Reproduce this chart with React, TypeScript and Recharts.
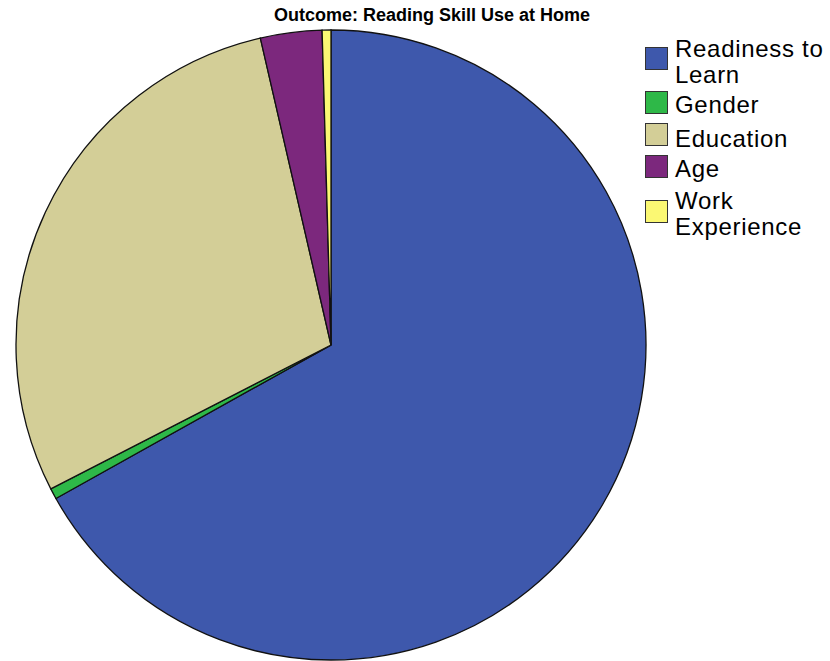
import { Cell, Legend, Pie, PieChart } from "recharts";

// Share of explained variance, outcome: reading skill use at home.
const predictors = ["Readiness to Learn", "Gender", "Education", "Age", "Work Experience"];
const legendLines = [["Readiness to", "Learn"], ["Gender"], ["Education"], ["Age"], ["Work", "Experience"]];
const shares = [66.9, 0.55, 28.95, 3.15, 0.45];
const colors = ["#3E58AC", "#2EB848", "#D3CE97", "#7C287D", "#FBF873"];

const data = predictors.map((name, i) => ({ name, value: shares[i] }));

// legend layout (px from the legend's top): swatch tops, first-line baselines, line gap
const swatchTop = [13, 57, 89, 121, 166];
const baseline = [23, 79, 113, 143, 175];
const lineGap = [26, 0, 0, 0, 26];

function LegendBox() {
  return (
    <div style={{ position: "relative", width: 185, height: 220, fontFamily: "'Liberation Sans', Arial, sans-serif", fontSize: 24, color: "#000" }}>
      {legendLines.map((lines, i) => (
        <div key={predictors[i]}>
          <span
            style={{
              position: "absolute",
              left: 0,
              top: swatchTop[i],
              width: 21,
              height: 21,
              background: colors[i],
              border: "1px solid #333",
            }}
          />
          {lines.map((l, j) => (
            <div
              key={l}
              style={{
                position: "absolute",
                left: 30,
                top: baseline[i] + j * lineGap[i] - 20,
                lineHeight: "24px",
                letterSpacing: 0.7,
                whiteSpace: "nowrap",
              }}
            >
              {l}
            </div>
          ))}
        </div>
      ))}
    </div>
  );
}

export default function App() {
  return (
    <div style={{ position: "absolute", left: 0, top: 0, width: 830, height: 661, background: "#fff" }}>
      <div
        style={{
          position: "absolute",
          top: 5,
          left: 0,
          width: 864,
          textAlign: "center",
          fontFamily: "'Liberation Sans', Arial, sans-serif",
          fontWeight: "bold",
          fontSize: 18,
          lineHeight: "normal",
          zIndex: 2,
        }}
      >
        Outcome: Reading Skill Use at Home
      </div>
      <PieChart width={830} height={661} margin={{ top: 0, right: 0, bottom: 0, left: 0 }}>
        <Pie
          data={data}
          dataKey="value"
          nameKey="name"
          cx={331}
          cy={345}
          outerRadius={315}
          startAngle={90}
          endAngle={-270}
          stroke="#111"
          strokeWidth={1.3}
          isAnimationActive={false}
        >
          {data.map((d, i) => (
            <Cell key={d.name} fill={colors[i]} />
          ))}
        </Pie>
        <Legend
          layout="vertical"
          align="right"
          verticalAlign="top"
          content={() => <LegendBox />}
          wrapperStyle={{ top: 34, left: 645, width: 185 }}
        />
      </PieChart>
    </div>
  );
}
